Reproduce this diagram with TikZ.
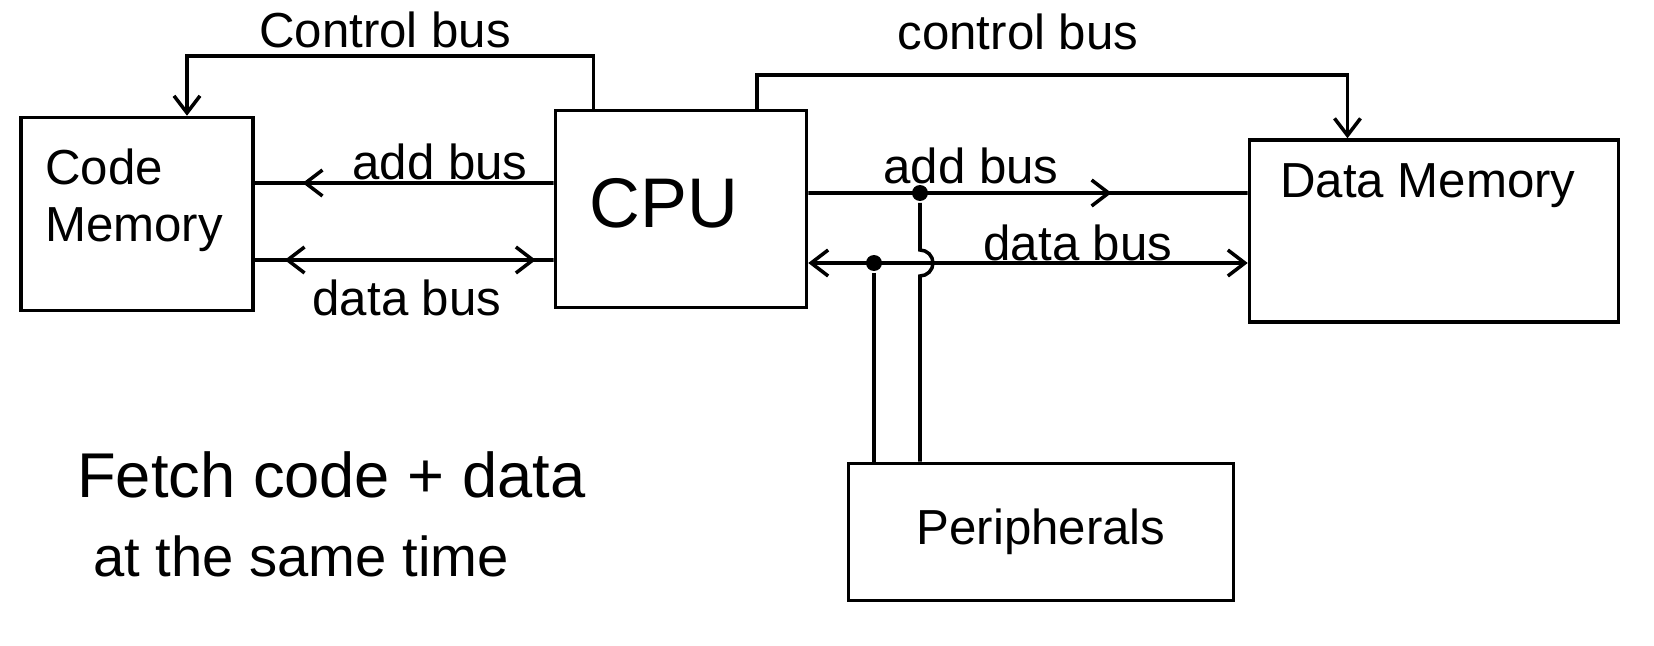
\documentclass[tikz,border=0pt]{standalone}
\usepackage{fontspec}
\setmainfont{Liberation Sans}
\usetikzlibrary{arrows.meta,decorations.markings}

\tikzset{
  box/.style={draw, inner sep=0pt},
  lbl/.style={font=\fontsize{14}{16}\selectfont, inner sep=1pt},
  note/.style={font=\fontsize{18}{20}\selectfont, inner sep=1pt, anchor=west},
  dot/.style={circle, fill, inner sep=0pt, minimum size=1.6mm},
  midarrow/.style={postaction={decorate, decoration={markings,
      mark=at position #1 with {\arrow{>}}}}},
  midback/.style={postaction={decorate, decoration={markings,
      mark=at position #1 with {\arrowreversed{>}}}}},
}

\begin{document}
\begin{tikzpicture}[x=0.1mm, y=-0.1mm, line width=1pt,
    >={Straight Barb[length=1.7mm,width=2.6mm]}]
  \useasboundingbox (0,0) rectangle (1654,646);

  % blocks
  \node[box, minimum width=23.2mm, minimum height=19.3mm] (codemem) at (137,214) {};
  \node[box, minimum width=25.1mm, minimum height=19.7mm] (cpu) at (681,209) {};
  \node[box, minimum width=36.9mm, minimum height=18.2mm] (dmem) at (1434,231) {};
  \node[box, lbl, minimum width=38.5mm, minimum height=13.7mm] (per) at (1041,532) {Peripherals};

  \node[lbl, anchor=north west, align=left] (codetxt) at (40,144) {Code\\Memory};
  \node[font=\fontsize{20}{24}\selectfont] (cputxt) at (664,203) {CPU};
  \node[lbl, anchor=north] (dmemtxt) at (1428,158) {Data Memory};

  % control buses
  \draw[->] ([xshift=-8.75mm]cpu.north) -- ++(0,-53) -| ([xshift=5mm]codemem.north);
  \draw[->] ([xshift=7.6mm]cpu.north) -- ++(0,-34) -| ([xshift=-8.65mm]dmem.north);
  \node[lbl] (ctlLtxt) at (385,30) {Control bus};
  \node[lbl] (ctlRtxt) at (1018,32) {control bus};

  % code side
  \draw[midarrow=0.84] ([yshift=2.6mm]cpu.west) -- ([yshift=3.1mm]codemem.east);
  \draw[midback=0.1, midarrow=0.94] ([yshift=-4.6mm]codemem.east) -- ([yshift=-5.1mm]cpu.west);
  \node[lbl] (addLtxt) at (440,162) {add bus};
  \node[lbl] (datLtxt) at (407,298) {data bus};

  % data side
  \draw[midarrow=0.69] ([yshift=1.6mm]cpu.east) -- ([yshift=3.8mm]dmem.west);
  \draw[<->] ([yshift=-5.4mm]cpu.east) -- ([yshift=-3.2mm]dmem.west);
  \node[lbl] (addRtxt) at (971,166) {add bus};
  \node[lbl] (datRtxt) at (1078,243) {data bus};

  % peripherals taps
  \node[dot] (jadd) at (920,193) {};
  \node[dot] (jdat) at (874,263) {};
  \draw (jdat) -- (jdat |- per.north);
  \draw (jadd) -- ++(0,57) arc[start angle=90, end angle=-90, radius=1.3mm]
    -- (jadd |- per.north);

  \node[note] (note1) at (72,475) {Fetch code + data};
  \node[note, font=\fontsize{16}{20}\selectfont] (note2) at (88,556) {at the same time};
\end{tikzpicture}
\end{document}
